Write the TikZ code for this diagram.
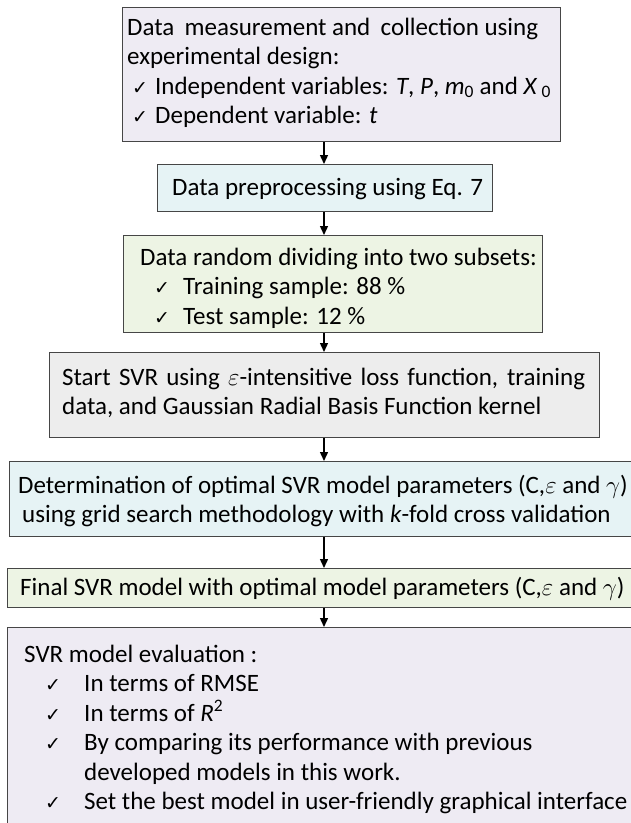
\documentclass[tikz,border=0pt]{standalone}
\usepackage{fontspec}
\setmainfont{Carlito}
\newfontfamily\dejavu{DejaVu Sans}
\usetikzlibrary{arrows.meta}
\newcommand\tick{{\dejavu\fontsize{19}{19}\selectfont ✓}}
\newcommand\lns[1]{\vtop{\baselineskip=29.5pt\lineskiplimit=-100pt\lineskip=0pt #1}}
\definecolor{lav}{RGB}{238,235,243}
\definecolor{cya}{RGB}{230,243,245}
\definecolor{grn}{RGB}{237,244,228}
\definecolor{gry}{RGB}{237,237,237}
\definecolor{brd}{RGB}{70,70,70}
\begin{document}
\begin{tikzpicture}[x=1pt,y=-1pt,
  font=\fontsize{25}{29.5}\selectfont,
  box/.style={draw=brd, line width=1.2pt, anchor=north west, inner sep=0pt},
  txt/.style={anchor=base west, inner sep=0pt},
  arr/.style={line width=1.4pt, -{Triangle[width=8pt,length=9pt]}}]
\useasboundingbox (0,0) rectangle (630,823);
\coordinate (ax) at (324,0);
% boxes
\node[box, fill=lav, minimum width=438pt, minimum height=134pt] (b1) at (122,7) {};
\node[box, fill=cya, minimum width=335pt, minimum height=47pt] (b2) at (157,164) {};
\node[box, fill=grn, minimum width=419pt, minimum height=97pt] (b3) at (123,235) {};
\node[box, fill=gry, minimum width=550pt, minimum height=85pt] (b4) at (49,352) {};
\node[box, fill=cya, minimum width=623pt, minimum height=75pt] (b5) at (9,461) {};
\node[box, fill=grn, minimum width=625pt, minimum height=39pt] (b6) at (7,568) {};
\node[box, fill=lav, minimum width=625pt, minimum height=210pt] (b7) at (7,627) {};
% texts
\node[txt] (t1) at (127,35) {\lns{%
  \hbox to 411pt{Data\hfil\ measurement and\hfil\ collection using}
  \hbox{experimental design:}
  \hbox{\hspace*{5pt}\makebox[23pt][l]{\tick}Independent variables: \textit{T}, \textit{P}, \textit{m}\textsubscript{0} and \textit{X}\,\textsubscript{0}}
  \hbox{\hspace*{5pt}\makebox[23pt][l]{\tick}Dependent variable: \textit{t}}}};
\node[txt] (t2) at (172,195) {Data preprocessing using Eq. 7};
\node[txt] (t3) at (140,265) {\lns{%
  \hbox{Data random dividing into two subsets:}
  \hbox{\hspace*{14pt}\makebox[29pt][l]{\tick}Training sample: 88 \%}
  \hbox{\hspace*{14pt}\makebox[29pt][l]{\tick}Test sample: 12 \%}}};
\node[txt] (t4) at (62,385) {\lns{%
  \hbox to 523pt{Start SVR using $\varepsilon$-intensitive loss function, training}
  \hbox{data, and Gaussian Radial Basis Function kernel}}};
\node[txt] (t5) at (18,493) {\lns{%
  \hbox{Determination of optimal SVR model parameters (C,$\varepsilon$ and $\gamma$)}
  \hbox{\hspace*{4pt}using grid search methodology with \textit{k}-fold cross validation}}};
\node[txt] (t6) at (20,595) {Final SVR model with optimal model parameters (C,$\varepsilon$ and $\gamma$)};
\node[txt] (t7) at (24,662) {\lns{%
  \hbox{SVR model evaluation :}
  \hbox{\hspace*{21pt}\makebox[39pt][l]{\tick}In terms of RMSE}
  \hbox{\hspace*{21pt}\makebox[39pt][l]{\tick}In terms of \textit{R}\textsuperscript{2}}
  \hbox{\hspace*{21pt}\makebox[39pt][l]{\tick}By comparing its performance with previous}
  \hbox{\hspace*{60pt}developed models in this work.}
  \hbox{\hspace*{21pt}\makebox[39pt][l]{\tick}Set the best model in user-friendly graphical interface}}};
% arrows
\draw[arr] (b1.south -| ax) -- (b2.north -| ax);
\draw[arr] (b2.south -| ax) -- (b3.north -| ax);
\draw[arr] (b3.south -| ax) -- (b4.north -| ax);
\draw[arr] (b4.south -| ax) -- (b5.north -| ax);
\draw[arr] (b5.south -| ax) -- (b6.north -| ax);
\draw[arr] (b6.south -| ax) -- (b7.north -| ax);
\end{tikzpicture}
\end{document}
